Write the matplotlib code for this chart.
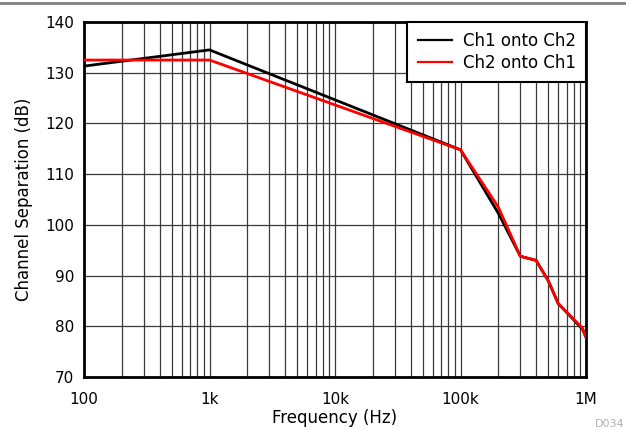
import matplotlib
matplotlib.use("Agg")
import matplotlib.pyplot as plt
from matplotlib.ticker import FixedLocator, NullFormatter

plt.rcParams['font.family'] = ['DejaVu Sans']

freq_ch1 = [100, 1000, 100000, 200000, 300000, 400000, 500000, 600000, 940000, 1000000]
sep_ch1 = [131.3, 134.5, 114.8, 102.3, 93.8, 93.0, 89.0, 84.5, 79.4, 77.8]
freq_ch2 = [100, 1000, 100000, 200000, 300000, 400000, 500000, 600000, 940000, 1000000]
sep_ch2 = [132.5, 132.5, 114.8, 103.5, 93.8, 93.0, 89.0, 84.5, 79.6, 77.8]
labels = ["Ch1 onto Ch2", "Ch2 onto Ch1"]
xticks = [100, 1000, 10000, 100000, 1000000]
xticklabels = ["100", "1k", "10k", "100k", "1M"]
yticks = [70, 80, 90, 100, 110, 120, 130, 140]

fig = plt.figure(figsize=(6.26, 4.30), dpi=100)
ax = fig.add_axes([84/626, 1-377/430, (586-84)/626, (377-22)/430])

ax.plot(freq_ch1, sep_ch1, color='black', lw=2, label=labels[0], zorder=3)
ax.plot(freq_ch2, sep_ch2, color='#ff0000', lw=2, label=labels[1], zorder=4)

ax.set_xscale('log')
ax.set_xlim(100, 1e6)
ax.set_ylim(70, 140)
ax.xaxis.set_major_locator(FixedLocator(xticks))
ax.set_xticklabels(xticklabels)
minor = [m * 10**e for e in range(2, 6) for m in range(2, 10)]
ax.xaxis.set_minor_locator(FixedLocator(minor))
ax.xaxis.set_minor_formatter(NullFormatter())
ax.set_yticks(yticks)
ax.grid(True, which='both', color='#3a3a3a', lw=0.9)
ax.tick_params(which='both', length=0, labelsize=11)
ax.tick_params(axis='x', pad=11)
ax.tick_params(axis='y', pad=7)
for s in ax.spines.values():
    s.set_linewidth(2)
ax.set_xlabel("Frequency (Hz)", fontsize=12, labelpad=1)
ax.set_ylabel("Channel Separation (dB)", fontsize=12, labelpad=9)

leg = ax.legend(loc='upper right', fontsize=12, frameon=True, fancybox=False,
                borderaxespad=0, handlelength=2.05, handletextpad=0.64,
                borderpad=0.62, labelspacing=0.2)
leg.get_frame().set_edgecolor('black')
leg.get_frame().set_linewidth(1.5)
leg.get_frame().set_alpha(1)
for h in leg.get_lines():
    h.set_linewidth(1.6)

fig.add_artist(plt.Line2D([0, 1], [1-3/430, 1-3/430], color='#808080', lw=2, transform=fig.transFigure))
fig.text(624/626, 1-424/430, "D034", color='#b0b0b0', fontsize=8, ha='right', va='center')

fig.savefig("out.png", dpi=100)
